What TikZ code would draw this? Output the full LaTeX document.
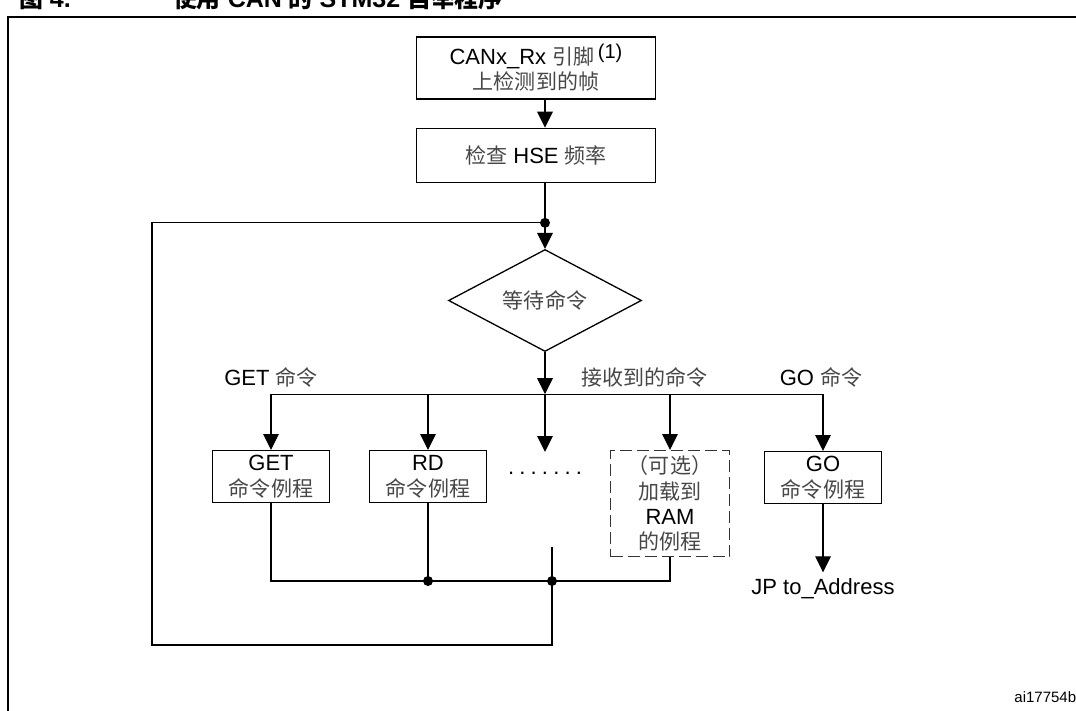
\documentclass[tikz,border=0pt]{standalone}
\usepackage{fontspec}
\setmainfont{Liberation Sans}
\newfontfamily\cjk[Scale=0.955]{Noto Sans CJK SC}
\usepackage{xcolor}
\usetikzlibrary{arrows.meta,positioning,shapes.geometric}

\definecolor{cjkgray}{gray}{0.28}
\newcommand{\zh}[1]{{\cjk\color{cjkgray}#1}}

\begin{document}
\begin{tikzpicture}[
  x=0.5pt, y=-0.5pt,
  font=\fontsize{11}{12.7}\selectfont,
  box/.style={draw, line width=0.65pt, align=center, inner sep=0pt,
    minimum width=119.5pt, minimum height=27pt},
  cmdbox/.style={draw, line width=0.65pt, align=center, inner sep=0pt,
    minimum width=58.5pt, minimum height=26pt},
  optbox/.style={cmdbox, draw=black!80, dash pattern=on 6pt off 2.5pt,
    minimum width=59.5pt, minimum height=53pt},
  decision/.style={draw, diamond, line width=0.65pt, inner sep=0pt,
    aspect=1.9, minimum width=96.5pt, minimum height=51pt},
  lbl/.style={inner sep=0pt},
  line/.style={line width=0.65pt},
  arr/.style={-{Triangle[length=8pt, width=7.8pt]}, line width=0.65pt},
  joint/.style={circle, fill, inner sep=0pt, minimum size=5pt}
]
\path[use as bounding box, fill=white] (0,0) rectangle (1076,711);

% cut-off caption and frame
\node[anchor=base west, font=\bfseries\fontsize{12.5}{14}\selectfont] (figno)
  at (12,8) {{\cjk 图} 4.};
\node[anchor=base west, font=\bfseries\fontsize{12.5}{14}\selectfont] (figtitle)
  at (166,8) {{\cjk 使用} CAN {\cjk 的} STM32 {\cjk 自举程序}};
\draw[line width=1pt] (1090,17) -- (8,17) -- (8,720);

\node[box, minimum height=31pt] (start) at (536,68)
  {CANx\_Rx \zh{引脚}\,\raisebox{0.5ex}{\fontsize{10}{10}\selectfont(1)}\\\zh{上检测到的帧}};
\node[box, below=14pt of start] (hse) {\zh{检查} HSE \zh{频率}};
\node[decision] (wait) at (545,300.5) {\zh{等待命令}};
\coordinate[above=13pt of wait.north] (jn);
\coordinate[below=21pt of wait.south] (fork);

\node[cmdbox, anchor=north] (get) at (271,450) {GET\\\zh{命令例程}};
\node[cmdbox, anchor=north] (rd) at (428,450) {RD\\\zh{命令例程}};
\node[optbox, anchor=north] (opt) at (670,450)
  {\zh{（可选）}\\\zh{加载到}\\RAM\\\zh{的例程}};
\node[cmdbox, anchor=north] (go) at (823,451) {GO\\\zh{命令例程}};
\coordinate (gap) at (545,452);
\node[lbl] (dots) at (545,473)
  {.\kern2.6pt.\kern2.6pt.\kern2.6pt.\kern2.6pt.\kern2.6pt.\kern2.6pt.};
\node[lbl, inner sep=3pt, below=34pt of go] (jp) {JP to\_Address};

\node[lbl] (getlbl) at (271,377) {GET \zh{命令}};
\node[lbl, anchor=west] (rxlbl) at (581,377) {\zh{接收到的命令}};
\node[lbl] (golbl) at (821,377) {GO \zh{命令}};

\coordinate (merge) at (552,581);
\coordinate (mergetop) at (552,547);
\coordinate (loopbl) at (152,645);

\draw[arr] (start.south -| wait) -- (hse.north -| wait);
\draw[arr] (hse.south -| wait) -- (wait.north);
\draw[arr] (wait.south) -- (fork);
\draw[line] (fork -| get.north) -- (fork -| go.north);
\draw[arr] (fork -| get.north) -- (get.north);
\draw[arr] (fork -| rd.north) -- (rd.north);
\draw[arr] (fork) -- (gap);
\draw[arr] (fork -| opt.north) -- (opt.north);
\draw[arr] (fork -| go.north) -- (go.north);
\draw[arr] (go.south) -- (jp.north);

\draw[line] (get.south) |- (opt.south |- merge) -- (opt.south);
\draw[line] (rd.south) -- (rd.south |- merge);
\draw[line] (mergetop) |- (loopbl) |- (jn);

\node[joint] (j1) at (jn) {};
\node[joint] (j2) at (rd.south |- merge) {};
\node[joint] (j3) at (merge) {};

\node[lbl, anchor=base west, font=\fontsize{7.5}{9}\selectfont] (fignum)
  at (1014,702) {ai17754b};
\end{tikzpicture}
\end{document}
